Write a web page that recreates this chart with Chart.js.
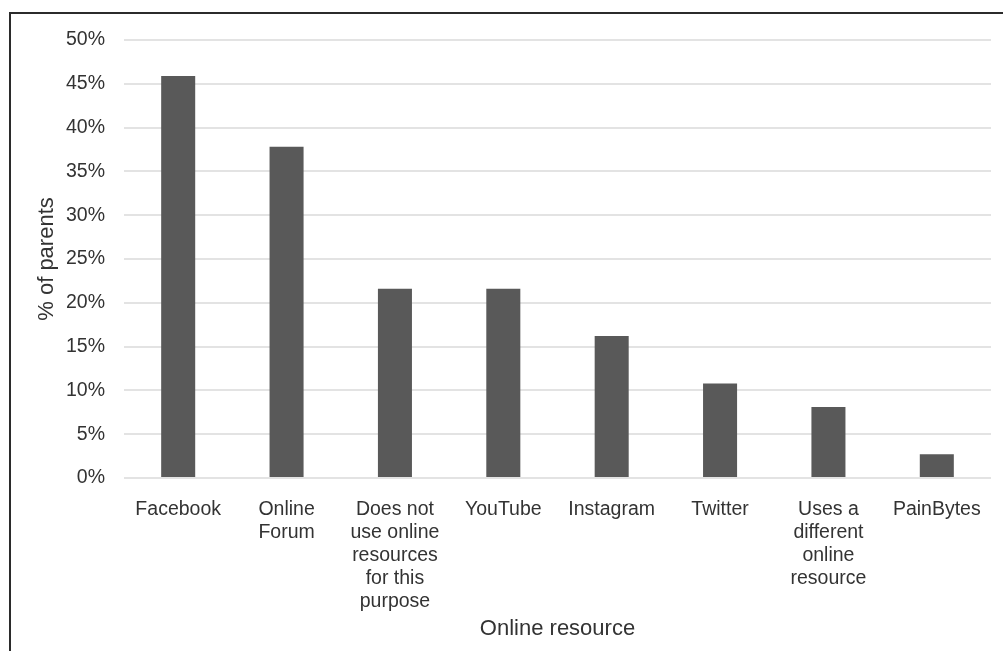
<!DOCTYPE html>
<html>
<head>
<meta charset="utf-8">
<title>Online resource used by parents</title>
<script src="https://cdn.jsdelivr.net/npm/chart.js@4/dist/chart.umd.min.js"></script>
<style>
  html, body { margin: 0; padding: 0; background: #fff; overflow: hidden; }
  #wrap { position: relative; width: 1003px; height: 651px; }
  #frame { position: absolute; left: 9px; top: 12px; right: -5px; bottom: -5px;
           border-left: 2px solid #2b2b2b; border-top: 2px solid #2b2b2b; }
  canvas { position: absolute; left: 0; top: 0; }
</style>
</head>
<body>
<div id="wrap">
  <div id="frame"></div>
  <canvas id="chart" width="1003" height="651"></canvas>
</div>
<script>
// Categories (multi-line labels as in the source)
const categories = [
  'Facebook',
  ['Online', 'Forum'],
  ['Does not', 'use online', 'resources', 'for this', 'purpose'],
  'YouTube',
  'Instagram',
  'Twitter',
  ['Uses a', 'different', 'online', 'resource'],
  'PainBytes'
];

// % of parents
const percentParents = [45.9, 37.8, 21.6, 21.6, 16.2, 10.8, 8.1, 2.7];

// y axis range
const yMin = 0;
const yMax = 50;
const yStep = 5;

const textColor = '#333333';
const fontFamily = '"Liberation Sans", Arial, Helvetica, sans-serif';

const ctx = document.getElementById('chart').getContext('2d');
new Chart(ctx, {
  type: 'bar',
  data: {
    labels: categories,
    datasets: [{
      label: '% of parents',
      data: percentParents,
      backgroundColor: '#595959',
      borderWidth: 0,
      barPercentage: 0.314,
      categoryPercentage: 1
    }]
  },
  options: {
    responsive: false,
    animation: false,
    layout: { padding: { top: 40, right: 12, left: 0, bottom: 0 } },
    plugins: {
      legend: { display: false },
      tooltip: { enabled: false }
    },
    scales: {
      x: {
        grid: { display: false },
        border: { display: false },
        ticks: {
          color: textColor,
          padding: 12,
          maxRotation: 0,
          autoSkip: false,
          font: { family: fontFamily, size: 19.5, lineHeight: 1.18 }
        },
        title: {
          display: true,
          text: 'Online resource',
          color: textColor,
          padding: { top: 0, bottom: 9 },
          font: { family: fontFamily, size: 22, lineHeight: 1.2 }
        },
        afterFit: (scale) => { scale.height = 173; }
      },
      y: {
        min: yMin,
        max: yMax,
        grid: { color: '#e3e3e3', lineWidth: 2, drawTicks: false },
        border: { display: false },
        ticks: {
          stepSize: yStep,
          color: textColor,
          padding: 19,
          font: { family: fontFamily, size: 19.5 },
          callback: (v) => v + '%'
        },
        title: {
          display: true,
          text: '% of parents',
          color: textColor,
          padding: { top: 34, bottom: 0 },
          font: { family: fontFamily, size: 22, lineHeight: 1.2 }
        },
        afterFit: (scale) => { scale.width = 124; }
      }
    }
  }
});
</script>
</body>
</html>
